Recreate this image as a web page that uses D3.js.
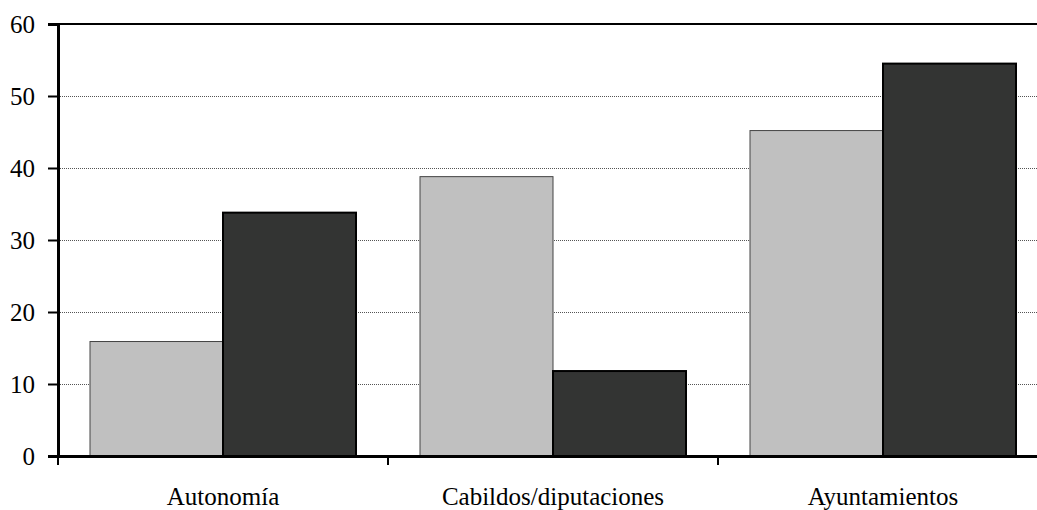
<!DOCTYPE html>
<html>
<head>
<meta charset="utf-8">
<script src="https://cdn.jsdelivr.net/npm/d3@7"></script>
<style>
  html, body { margin: 0; padding: 0; background: #fff; }
  svg { display: block; }
</style>
</head>
<body>
<svg id="chart" width="1037" height="510"></svg>
<script>
const categories = ["Autonomía", "Cabildos/diputaciones", "Ayuntamientos"];
const seriesA = [15.9, 38.8, 45.2];
const seriesB = [33.8, 11.8, 54.5];
const yTicks = [0, 10, 20, 30, 40, 50, 60];

(function () {
const svg = d3.select("#chart");
const mLeft = 58, mRight = 1048, mTop = 24, mBottom = 456;
const FONT = "'Liberation Serif', 'Times New Roman', serif";

const x = d3.scaleBand().domain(categories).range([mLeft, mRight]).paddingInner(0).paddingOuter(0);
const y = d3.scaleLinear().domain([0, 60]).range([mBottom, mTop]);

// gridlines
svg.append("g").selectAll("line").data(yTicks.filter(d => d > 0 && d < 60)).join("line")
  .attr("x1", mLeft).attr("x2", mRight)
  .attr("y1", d => y(d) + 0.5).attr("y2", d => y(d) + 0.5)
  .attr("stroke", "#555").attr("stroke-width", 1).attr("stroke-dasharray", "1,1");

// top border
svg.append("line").attr("x1", mLeft).attr("x2", mRight).attr("y1", y(60)).attr("y2", y(60))
  .attr("stroke", "#000").attr("stroke-width", 2);

const pad = 32;
const bw = (x.bandwidth() - 2 * pad) / 2;
const groups = svg.append("g").selectAll("g").data(categories).join("g");

groups.append("rect")
  .attr("x", (d) => x(d) + pad)
  .attr("y", (d, i) => y(seriesA[i]))
  .attr("width", bw)
  .attr("height", (d, i) => y(0) - y(seriesA[i]))
  .attr("fill", "#c0c0c0").attr("stroke", "#444").attr("stroke-width", 1);

groups.append("rect")
  .attr("x", (d) => x(d) + pad + bw)
  .attr("y", (d, i) => y(seriesB[i]))
  .attr("width", bw)
  .attr("height", (d, i) => y(0) - y(seriesB[i]))
  .attr("fill", "#333433").attr("stroke", "#000").attr("stroke-width", 2);

// y axis
const yAxis = d3.axisLeft(y).tickValues(yTicks).tickSize(10).tickPadding(13).tickFormat(d3.format("d"));
const gy = svg.append("g").attr("transform", `translate(${mLeft},0)`).call(yAxis)
  .attr("font-family", FONT).attr("font-size", 25);
gy.select(".domain").attr("stroke", "#000").attr("stroke-width", 3);
gy.selectAll(".tick line").attr("stroke", "#000").attr("stroke-width", 2);
gy.selectAll(".tick text").attr("fill", "#000");

// x axis
const xAxis = d3.axisBottom(x).tickSize(0).tickPadding(31);
const gx = svg.append("g").attr("transform", `translate(0,${mBottom})`).call(xAxis)
  .attr("font-family", FONT).attr("font-size", 25);
gx.select(".domain").attr("stroke", "#000").attr("stroke-width", 3);
gx.selectAll(".tick text").attr("fill", "#000");

// category boundary ticks
svg.append("g").selectAll("line").data(categories).join("line")
  .attr("x1", d => x(d)).attr("x2", d => x(d))
  .attr("y1", mBottom).attr("y2", mBottom + 9)
  .attr("stroke", "#000").attr("stroke-width", 2);
})();
</script>
</body>
</html>
